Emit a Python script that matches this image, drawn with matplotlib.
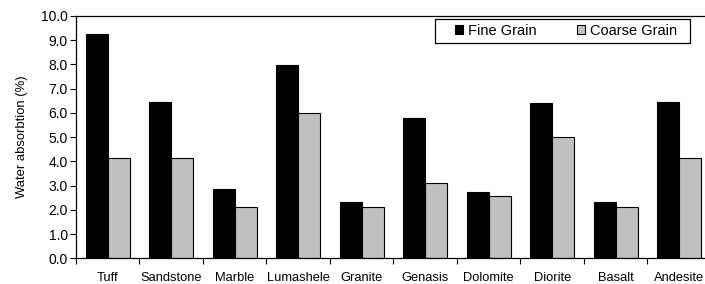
import numpy as np
import matplotlib.pyplot as plt
from matplotlib.patches import Rectangle
from matplotlib.ticker import FixedLocator, NullFormatter

plt.rcParams['font.family'] = ['Liberation Sans', 'DejaVu Sans']

rocks = ["Tuff", "Sandstone", "Marble", "Lumashele", "Granite",
         "Genasis", "Dolomite", "Diorite", "Basalt", "Andesite"]
fine = [9.26, 6.45, 2.87, 7.98, 2.31, 5.78, 2.74, 6.41, 2.31, 6.46]
coarse = [4.14, 4.14, 2.10, 5.98, 2.10, 3.11, 2.57, 4.99, 2.10, 4.14]

fig = plt.figure(figsize=(7.05, 2.84), dpi=100)
ax = fig.add_axes([0.1078, 0.0905, 0.9007, 0.8532])

x = np.arange(len(rocks))
w = 0.35
ax.bar(x - w / 2, fine, w, color="black", edgecolor="black", linewidth=0.8,
       label="Fine Grain")
ax.bar(x + w / 2, coarse, w, color="#c0c0c0", edgecolor="black", linewidth=0.8,
       label="Coarse Grain")

ax.set_xlim(-0.5, len(rocks) - 0.5)
ax.set_ylim(0, 10)
ax.set_yticks(np.arange(0, 10.01, 1.0))
ax.set_yticklabels(["%.1f" % v for v in np.arange(0, 10.01, 1.0)], fontsize=10)

# category boundaries as major ticks, names on minor ticks
ax.xaxis.set_major_locator(FixedLocator(np.arange(-0.5, len(rocks), 1.0)))
ax.xaxis.set_major_formatter(NullFormatter())
ax.set_xticks(x, minor=True)
ax.set_xticklabels(rocks, minor=True, fontsize=9.3)
ax.tick_params(axis="x", which="minor", length=0, pad=10)
ax.tick_params(axis="x", which="major", length=4, width=0.8)
ax.tick_params(axis="y", length=4, width=0.8, pad=2)

for s in ax.spines.values():
    s.set_linewidth(0.9)

ax.set_ylabel("Water absorbtion (%)", fontsize=9.4, labelpad=9)

# legend without its own frame; box drawn separately to get the wide side padding
leg = ax.legend(loc="center", bbox_to_anchor=(0.803, 0.892),
                bbox_transform=fig.transFigure, ncol=2, fontsize=10.5,
                frameon=False, borderaxespad=0, borderpad=0,
                handlelength=0.55, handleheight=0.55, handletextpad=0.35,
                columnspacing=2.8)
fig.add_artist(Rectangle((0.617, 0.8496), 0.3617, 0.0845,
                         transform=fig.transFigure, fill=False,
                         edgecolor="black", linewidth=0.9))

fig.savefig("out.png", dpi=100)
